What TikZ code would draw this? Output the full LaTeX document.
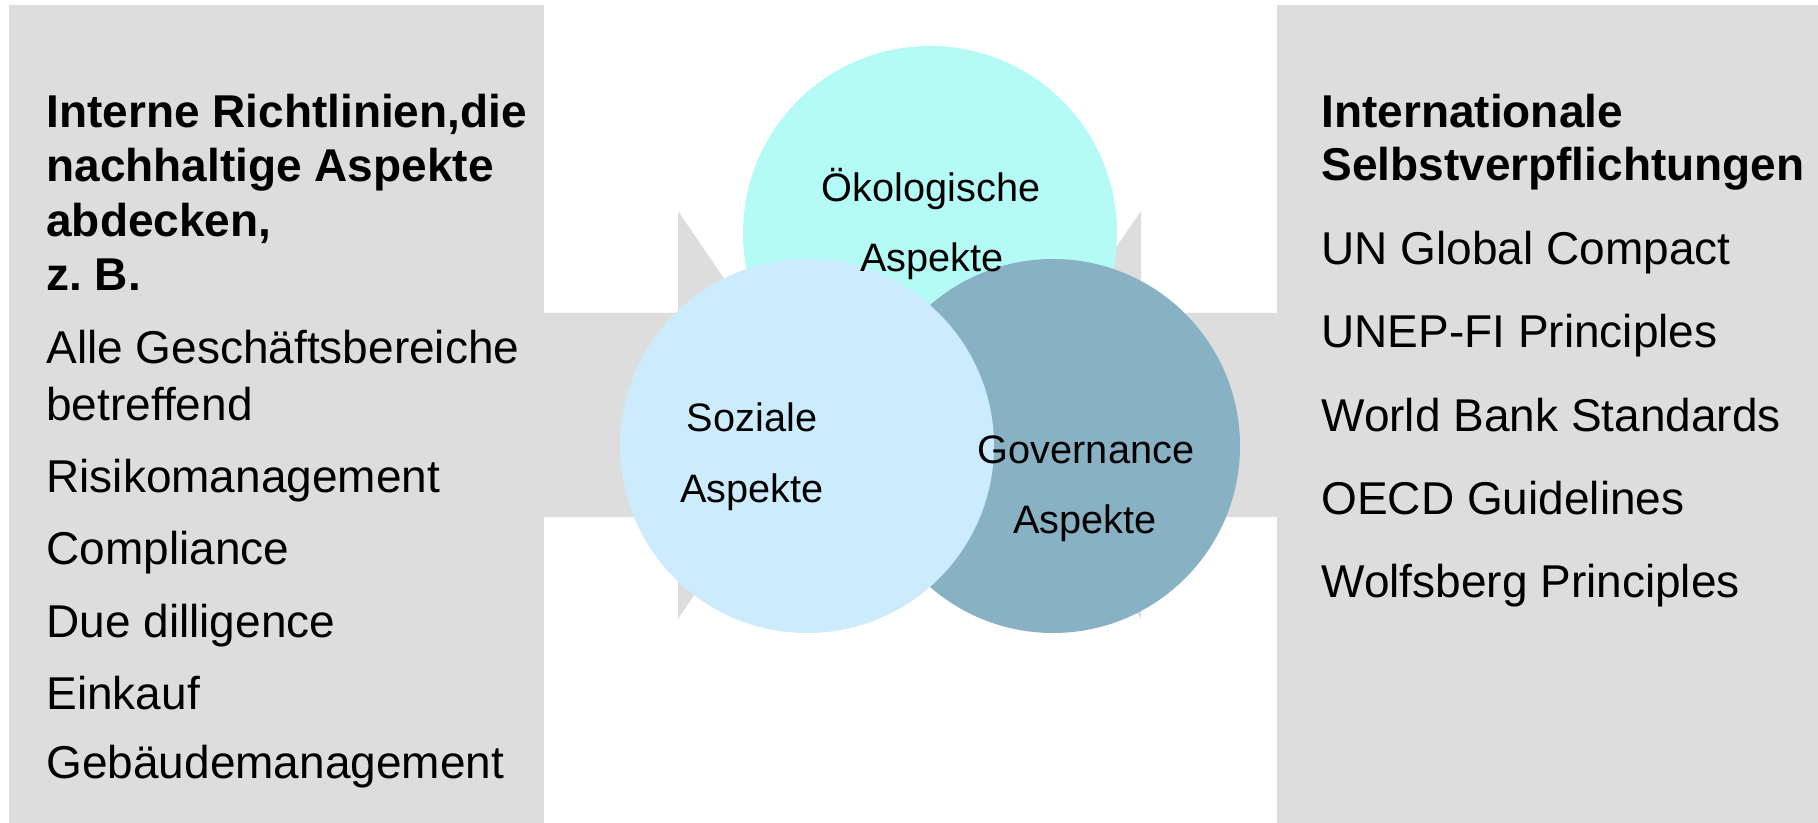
\documentclass[tikz,border=0pt]{standalone}
\usepackage{fontspec}
\setmainfont{Liberation Sans}
\definecolor{panel}{HTML}{DDDDDD}
\definecolor{ecoc}{HTML}{B3FBF4}
\definecolor{socc}{HTML}{CCECFD}
\definecolor{govc}{HTML}{88B1C4}
\frenchspacing
\begin{document}
\begin{tikzpicture}[x=0.5pt,y=-0.5pt,
  head/.style={anchor=base west, inner sep=0pt, font=\fontsize{23}{27}\selectfont\bfseries},
  item/.style={anchor=base west, inner sep=0pt, font=\fontsize{23}{27}\selectfont},
  ctext/.style={anchor=base, inner sep=0pt, font=\fontsize{19.85}{24}\selectfont},
  circ/.style={circle, minimum size=187pt, inner sep=0pt, draw=none}]
\useasboundingbox (0,0) rectangle (1818,823);
\fill[white] (0,0) rectangle (1818,823);
% panels
\fill[panel] (9,5) rectangle (544,823);
\fill[panel] (1277,5) rectangle (1818,823);
% arrows
\fill[panel] (544,313) -- (678,313) -- (678,211) -- (817,415) -- (678,619) -- (678,517) -- (544,517) -- cycle;
\fill[panel] (1277,313) -- (1141,313) -- (1141,211) -- (1001,415) -- (1141,619) -- (1141,517) -- (1277,517) -- cycle;
% circles
\node[circ, fill=ecoc] (eco) at (930,233) {};
\node[circ, fill=govc] (gov) at (1053,446) {};
\node[circ, fill=socc] (soc) at (807,446) {};
% circle texts
\node[ctext] (eco1) at (931,202) {Ökologische};
\node[ctext] (eco2) at (932,272) {Aspekte};
\node[ctext] (soc1) at (752,431) {Soziale};
\node[ctext] (soc2) at (752,502) {Aspekte};
\node[ctext] (gov1) at (1086,463) {Governance};
\node[ctext] (gov2) at (1085,533) {Aspekte};
% left texts
\node[head] (l1) at (46,127.5) {Interne Richtlinien,die};
\node[head] (l2) at (46,182) {nachhaltige Aspekte};
\node[head] (l3) at (46,236.5) {abdecken,};
\node[head] (l4) at (46,291) {z. B.};
\node[item] (l5) at (46,364) {Alle Geschäftsbereiche};
\node[item] (l6) at (46,420) {betreffend};
\node[item] (l7) at (46,492) {Risikomanagement};
\node[item] (l8) at (46,564) {Compliance};
\node[item] (l9) at (46,637) {Due dilligence};
\node[item] (l10) at (46,709) {Einkauf};
\node[item] (l11) at (46,778.5) {Gebäudemanagement};
% right texts
\node[head] (r1) at (1321,127.5) {Internationale};
\node[head] (r2) at (1321,181) {Selbstverpflichtungen};
\node[item] (r3) at (1321,265) {UN Global Compact};
\node[item] (r4) at (1321,348) {UNEP-FI Principles};
\node[item] (r5) at (1321,431) {World Bank Standards};
\node[item] (r6) at (1321,514) {OECD Guidelines};
\node[item] (r7) at (1321,597) {Wolfsberg Principles};
\end{tikzpicture}
\end{document}
